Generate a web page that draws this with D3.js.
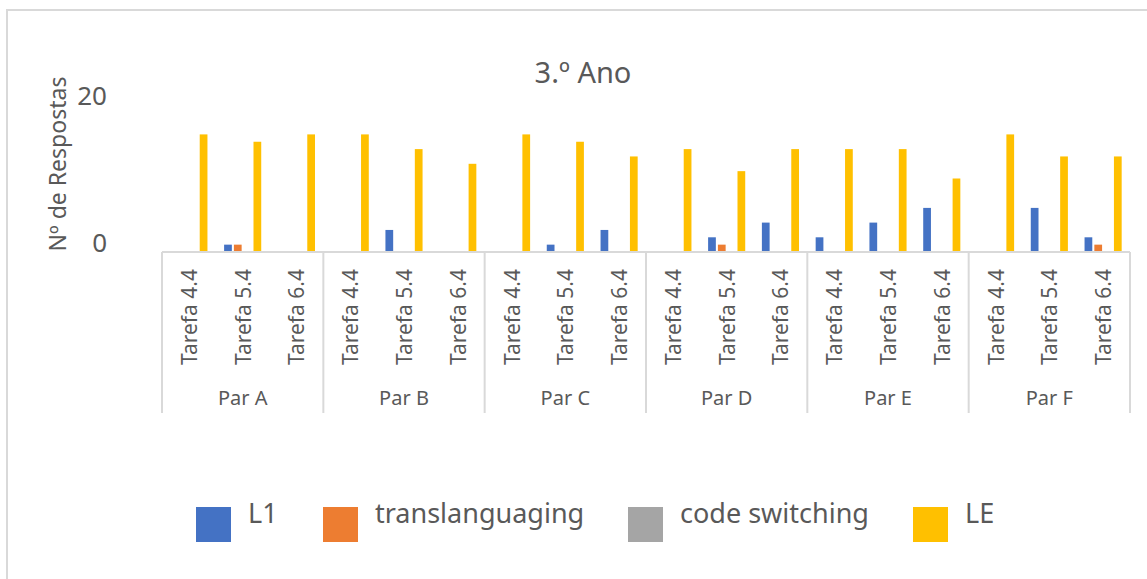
<!DOCTYPE html>
<html>
<head>
<meta charset="utf-8">
<script src="https://cdn.jsdelivr.net/npm/d3@7"></script>
<style>
  html, body { margin: 0; padding: 0; background: #fff; }
  svg { display: block; font-family: "Noto Sans", "Open Sans", sans-serif; }
</style>
</head>
<body>
<svg id="chart" width="1147" height="579"></svg>
<script>
// Pairs (outer category level) and tasks (inner category level)
const pairs = ["Par A", "Par B", "Par C", "Par D", "Par E", "Par F"];
const tasks = ["Tarefa 4.4", "Tarefa 5.4", "Tarefa 6.4"];
const seriesNames = ["L1", "translanguaging", "code switching", "LE"];
const seriesColors = ["#4472C4", "#ED7D31", "#A5A5A5", "#FFC000"];
const yTicks = [0, 20];

// Values per series, in order Par A (4.4, 5.4, 6.4), Par B (...), ... Par F
const valuesL1 = [0, 1, 0,  0, 3, 0,  0, 1, 3,  0, 2, 4,  2, 4, 6,  0, 6, 2];
const valuesTrans = [0, 1, 0,  0, 0, 0,  0, 0, 0,  0, 1, 0,  0, 0, 0,  0, 0, 1];
const valuesCS = [0, 0, 0,  0, 0, 0,  0, 0, 0,  0, 0, 0,  0, 0, 0,  0, 0, 0];
const valuesLE = [16, 15, 16,  16, 14, 12,  16, 15, 13,  14, 11, 14,  14, 14, 10,  16, 13, 13];

const seriesValues = [valuesL1, valuesTrans, valuesCS, valuesLE];

// Flat list of (pair, task) slots
const slots = [];
pairs.forEach(p => tasks.forEach(t => slots.push({ pair: p, task: t, key: p + "|" + t })));

const svg = d3.select("#chart");
const textColor = "#595959";
const lineColor = "#D9D9D9";

// Chart area frame
svg.append("rect")
  .attr("x", 7).attr("y", 10)
  .attr("width", 1200).attr("height", 700)
  .attr("fill", "none")
  .attr("stroke", lineColor)
  .attr("stroke-width", 2);

const plot = { left: 162, right: 1130, top: 105, bottom: 252 };

const xPair = d3.scaleBand().domain(pairs).range([plot.left, plot.right]).padding(0);
const xSlot = d3.scaleBand().domain(slots.map(s => s.key)).range([plot.left, plot.right]).padding(0);
const xSeries = d3.scaleBand().domain(seriesNames).range([0, xSlot.bandwidth()])
  .paddingInner(0.21).paddingOuter(0.85);
const y = d3.scaleLinear().domain([0, 20]).range([plot.bottom, plot.top]);

// Title
svg.append("text")
  .attr("x", 583).attr("y", 83)
  .attr("text-anchor", "middle")
  .attr("font-size", 29)
  .attr("fill", textColor)
  .text("3.º Ano");

// Y axis title
svg.append("text")
  .attr("transform", "translate(57,164) rotate(-90)")
  .attr("text-anchor", "middle")
  .attr("dominant-baseline", "central")
  .attr("font-size", 23)
  .attr("fill", textColor)
  .text("Nº de Respostas");

// Y axis labels
const yAxis = d3.axisLeft(y).tickValues(yTicks).tickSize(0).tickPadding(0).tickFormat(d3.format("d"));
const yG = svg.append("g").attr("transform", "translate(107,0)").call(yAxis);
yG.select(".domain").remove();
yG.selectAll("text")
  .attr("font-family", "Noto Sans, Open Sans, sans-serif")
  .attr("font-size", 26)
  .attr("fill", textColor)
  .attr("dy", "0.35em")
  .attr("transform", "translate(0,-10)");

// Bars
seriesNames.forEach((name, si) => {
  svg.append("g")
    .selectAll("rect")
    .data(slots.map((s, i) => ({ slot: s, v: seriesValues[si][i] })))
    .join("rect")
    .attr("x", d => xSlot(d.slot.key) + xSeries(name))
    .attr("width", xSeries.bandwidth())
    .attr("y", d => y(d.v))
    .attr("height", d => y(0) - y(d.v))
    .attr("fill", seriesColors[si]);
});

// Category axis: baseline and group separators
svg.append("line")
  .attr("x1", plot.left).attr("x2", plot.right)
  .attr("y1", plot.bottom).attr("y2", plot.bottom)
  .attr("stroke", lineColor).attr("stroke-width", 2);

const sepX = pairs.map(p => xPair(p)).concat([plot.right]);
svg.append("g").selectAll("line")
  .data(sepX)
  .join("line")
  .attr("x1", d => d).attr("x2", d => d)
  .attr("y1", plot.bottom).attr("y2", 413)
  .attr("stroke", lineColor).attr("stroke-width", 2);

// Task labels (rotated)
svg.append("g").selectAll("text")
  .data(slots)
  .join("text")
  .attr("transform", d => `translate(${xSlot(d.key) + xSlot.bandwidth() / 2},269) rotate(-90)`)
  .attr("text-anchor", "end")
  .attr("dominant-baseline", "central")
  .attr("font-size", 21)
  .attr("fill", textColor)
  .text(d => d.task);

// Pair labels
svg.append("g").selectAll("text")
  .data(pairs)
  .join("text")
  .attr("x", d => xPair(d) + xPair.bandwidth() / 2)
  .attr("y", 405)
  .attr("text-anchor", "middle")
  .attr("font-size", 20)
  .attr("fill", textColor)
  .text(d => d);

// Legend
const legendX = [196, 323, 628, 913];
const legend = svg.append("g").selectAll("g")
  .data(seriesNames)
  .join("g")
  .attr("transform", (d, i) => `translate(${legendX[i]},507)`);
legend.append("rect")
  .attr("width", 35).attr("height", 35)
  .attr("fill", (d, i) => seriesColors[i]);
legend.append("text")
  .attr("x", 52).attr("y", 16)
  .attr("font-size", 27)
  .attr("fill", textColor)
  .text(d => d);
</script>
</body>
</html>
